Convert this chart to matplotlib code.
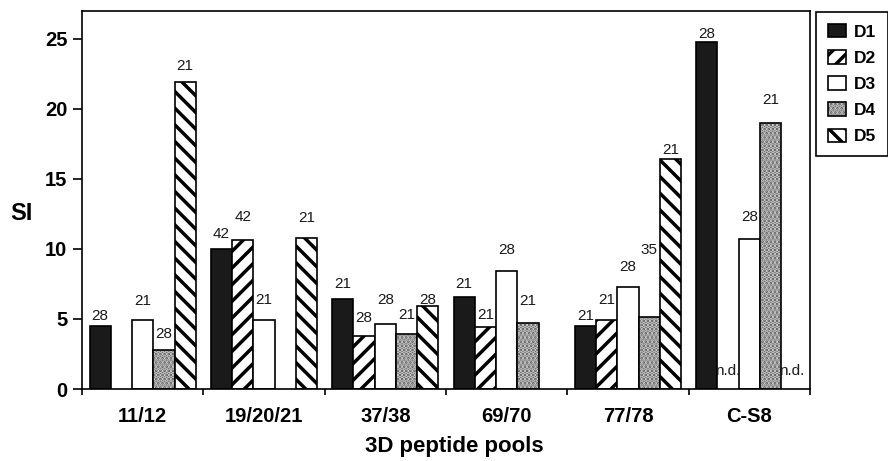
import numpy as np
import matplotlib.pyplot as plt
from matplotlib.patches import Patch
from matplotlib.legend_handler import HandlerTuple

plt.rcParams['font.family'] = ['Liberation Sans', 'DejaVu Sans']
plt.rcParams['hatch.linewidth'] = 2.5

# data
pools = ['11/12', '19/20/21', '37/38', '69/70', '77/78', 'C-S8']
donors = ['D1', 'D2', 'D3', 'D4', 'D5']
nan = np.nan

si_d1 = [4.5, 10.0, 6.4, 6.55, 4.5, 24.75]
si_d2 = [nan, 10.65, 3.8, 4.45, 4.9, nan]
si_d3 = [4.9, 4.9, 4.65, 8.45, 7.3, 10.7]
si_d4 = [2.8, nan, 3.95, 4.75, 5.15, 19.0]
si_d5 = [21.95, 10.75, 5.95, nan, 16.45, nan]

# number printed above each bar, and the height it sits at
n_d1 = ['28', '42', '21', '21', '21', '28']
n_d2 = [None, '42', '28', '21', '21', 'n.d.']
n_d3 = ['21', '21', '28', '28', '28', '28']
n_d4 = ['28', None, '21', '21', '35', '21']
n_d5 = ['21', '21', '28', None, '21', 'n.d.']

lab_d1 = [4.9, 10.8, 7.25, 7.25, 4.9, 25.1]
lab_d2 = [nan, 12.0, 4.8, 5.0, 6.05, 1.0]
lab_d3 = [6.0, 6.05, 6.05, 9.65, 8.45, 12.0]
lab_d4 = [3.65, nan, 5.0, 6.0, 9.65, 20.35]
lab_d5 = [22.8, 11.95, 6.05, nan, 16.8, 1.0]

values = [si_d1, si_d2, si_d3, si_d4, si_d5]
numbers = [n_d1, n_d2, n_d3, n_d4, n_d5]
label_y = [lab_d1, lab_d2, lab_d3, lab_d4, lab_d5]

fig = plt.figure(figsize=(8.88, 4.61), dpi=100)
ax = fig.add_axes([82 / 888, 1 - 389 / 461, 728 / 888, 378 / 461])

x = np.arange(len(pools)) + 0.5
w = 0.175
lw = 1.2
dot_face, dot_col = '#5e5e5e', '#c8c8c8'

styles = {
    'D1': dict(facecolor='#1a1a1a'),
    'D2': dict(facecolor='white', hatch='//'),
    'D3': dict(facecolor='white'),
    'D5': dict(facecolor='white', hatch='\\\\'),
}

handles = []
for i, name in enumerate(donors):
    pos = x + (i - 2) * w
    vals = values[i]
    if name == 'D4':
        ax.bar(pos, vals, w, facecolor=dot_face, edgecolor=dot_col, linewidth=0, hatch='....')
        ax.bar(pos, vals, w, fill=False, edgecolor='black', linewidth=lw)
        handles.append((Patch(facecolor=dot_face, edgecolor=dot_col, linewidth=0, hatch='....'),
                        Patch(fill=False, edgecolor='black', linewidth=lw)))
    else:
        ax.bar(pos, vals, w, edgecolor='black', linewidth=lw, **styles[name])
        handles.append(Patch(edgecolor='black', linewidth=lw, **styles[name]))

    for p, n, yy in zip(pos, numbers[i], label_y[i]):
        if n is None:
            continue
        ax.text(p, yy, n, ha='center', va='baseline', fontsize=11, color='#1a1a1a')

ax.set_xlim(0, len(pools))
ax.set_ylim(0, 27)

ax.set_xticks(np.arange(len(pools) + 1))
ax.set_xticklabels([])
ax.set_xticks(x, minor=True)
ax.set_xticklabels(pools, minor=True, fontsize=14.5, fontweight='bold')
ax.tick_params(axis='x', which='major', length=4, width=lw, direction='out')
ax.tick_params(axis='x', which='minor', length=0, pad=13)

ax.set_yticks(range(0, 26, 5))
ax.tick_params(axis='y', length=6.5, width=lw, pad=4, labelsize=14.5)
for t in ax.get_yticklabels():
    t.set_fontweight('bold')

for s in ax.spines.values():
    s.set_linewidth(lw)

ax.set_ylabel('SI', rotation=0, fontsize=17, fontweight='bold', ha='center', va='center')
ax.yaxis.set_label_coords(-0.0838, 0.463)
ax.set_xlabel('3D peptide pools', fontsize=16, fontweight='bold')
ax.xaxis.set_label_coords(0.512, -0.124)

leg = ax.legend(handles, donors, handler_map={tuple: HandlerTuple(ndivide=1, pad=0)},
                loc='upper left', bbox_to_anchor=(816 / 888, 1 - 12 / 461),
                bbox_transform=fig.transFigure, borderaxespad=0,
                prop={'weight': 'bold', 'size': 12.5}, fancybox=False,
                edgecolor='black', framealpha=1, borderpad=0.7,
                labelspacing=0.6, handlelength=1.03, handleheight=0.8,
                handletextpad=0.46)
leg.get_frame().set_linewidth(lw)

fig.savefig('out.png', dpi=100)
